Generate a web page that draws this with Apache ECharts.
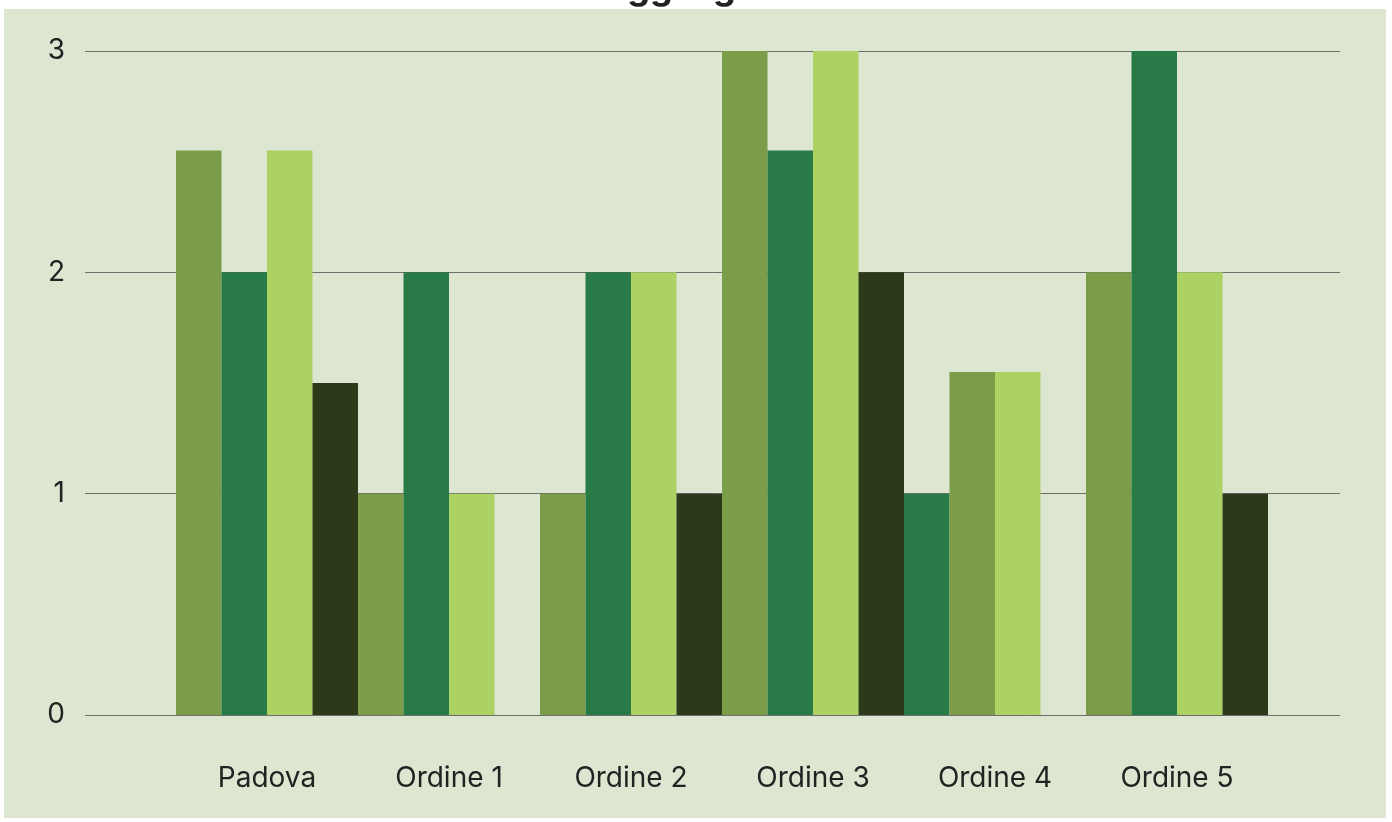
<!DOCTYPE html>
<html>
<head>
<meta charset="utf-8">
<script src="https://cdn.jsdelivr.net/npm/echarts@6/dist/echarts.min.js"></script>
<style>
  html, body { margin: 0; padding: 0; background: #fff; }
  #main { width: 1392px; height: 822px; }
</style>
</head>
<body>
<div id="main"></div>
<script>
// categorie e valori (una serie per posizione della barra nel gruppo)
var categories = ['Padova', 'Ordine 1', 'Ordine 2', 'Ordine 3', 'Ordine 4', 'Ordine 5'];
var bar1 = [2.55, 1, 1, 3, 1, 2];
var bar2 = [2, 2, 2, 2.55, 1.55, 3];
var bar3 = [2.55, 1, 2, 3, 1.55, 2];
var bar4 = [1.5, 0, 1, 2, 0, 1];
var yTicks = [0, 1, 2, 3];
// in questi gruppi le prime due barre hanno i colori scambiati
var swapped = [4];

var olive = '#7b9c48';
var green = '#287a46';
var light = '#acd263';
var dark = '#2d3a19';

function items(values, col, altCol) {
  return values.map(function (v, i) {
    return {
      value: v,
      itemStyle: { color: swapped.indexOf(i) >= 0 ? altCol : col }
    };
  });
}

var chart = echarts.init(document.getElementById('main'));
var font = 'Inter, "Noto Sans", sans-serif';

var option = {
  animation: false,
  title: {
    text: 'Punteggio generale',
    left: 'center',
    top: -35,
    textStyle: { fontFamily: font, fontSize: 36, fontWeight: 'bold', color: '#222' }
  },
  graphic: [{
    type: 'rect',
    z: -10,
    shape: { x: 4, y: 9, width: 1382, height: 809 },
    style: { fill: '#dde6d0' }
  }],
  grid: [
    { left: 85, right: 52, top: 51, bottom: 107 },
    { left: 176, right: 124, top: 51, bottom: 107 }
  ],
  xAxis: [
    { type: 'value', gridIndex: 0, show: false, min: 0, max: 1 },
    {
      type: 'category',
      gridIndex: 1,
      data: categories,
      axisLine: { show: false },
      axisTick: { show: false },
      axisLabel: { color: '#222', fontFamily: font, fontSize: 28, margin: 50 }
    }
  ],
  yAxis: [
    {
      type: 'value',
      gridIndex: 0,
      min: yTicks[0],
      max: yTicks[yTicks.length - 1],
      interval: 1,
      axisLine: { show: false },
      axisTick: { show: false },
      axisLabel: { color: '#222', fontFamily: font, fontSize: 28, margin: 20 },
      splitLine: { lineStyle: { color: '#6e6e6e', width: 1 } }
    },
    {
      type: 'value',
      gridIndex: 1,
      min: 0,
      max: 3,
      interval: 1,
      show: false
    }
  ],
  series: [
    { type: 'bar', xAxisIndex: 1, yAxisIndex: 1, barGap: '0%', barCategoryGap: '0%', data: items(bar1, olive, green) },
    { type: 'bar', xAxisIndex: 1, yAxisIndex: 1, data: items(bar2, green, olive) },
    { type: 'bar', xAxisIndex: 1, yAxisIndex: 1, data: items(bar3, light, light) },
    { type: 'bar', xAxisIndex: 1, yAxisIndex: 1, data: items(bar4, dark, dark) }
  ]
};

chart.setOption(option);
</script>
</body>
</html>
